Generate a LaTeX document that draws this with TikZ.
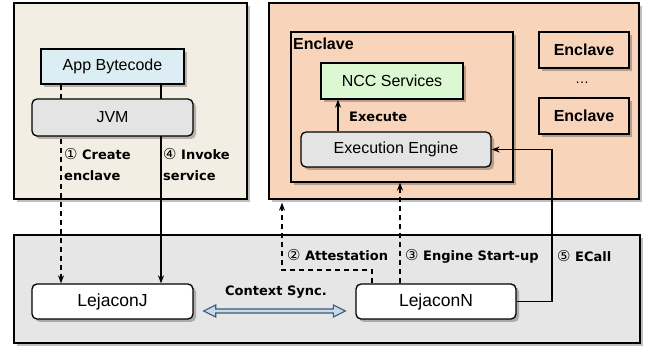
\documentclass[tikz,border=0pt]{standalone}
\usepackage{fontspec}
\setmainfont{Liberation Sans}
\newfontfamily\lblfont{DejaVu Sans}
\usetikzlibrary{shadows,arrows.meta,calc}
\definecolor{leftfill}{HTML}{F3EEE4}
\definecolor{rightfill}{HTML}{F8D4BA}
\definecolor{botfill}{HTML}{E6E6E6}
\definecolor{appfill}{HTML}{DCEEF3}
\definecolor{nccfill}{HTML}{DBF8D3}
\definecolor{greyfill}{HTML}{E4E4E4}
\definecolor{syncfill}{HTML}{C8DAEA}
\definecolor{syncline}{HTML}{3D5B78}
\newcommand{\circnum}[1]{{\mdseries\fontsize{15}{15}\selectfont #1}}
\tikzset{
  shad/.style={drop shadow={shadow xshift=3pt, shadow yshift=-3pt, fill=black, opacity=0.25}},
  box/.style={draw=black, line width=1.3pt, shad, inner sep=0pt, anchor=center},
  panel/.style={box},
  rbox/.style={box, rounded corners=5pt},
  boxtext/.style={font=\fontsize{16}{18}\selectfont},
  enctext/.style={font=\fontsize{16}{18}\selectfont\bfseries},
  lbl/.style={font=\lblfont\bfseries\fontsize{13}{21}\selectfont, inner sep=0pt, align=left},
  conn/.style={line width=1.4pt, -{Stealth[length=8pt,width=6pt]}},
  dconn/.style={conn, dash pattern=on 5pt off 4pt},
}
\begin{document}
\begin{tikzpicture}[x=1pt,y=-1pt]
\useasboundingbox (0,0) rectangle (651,352);
% panels
\node[panel, fill=leftfill, minimum width=233pt, minimum height=196pt] (lp) at (130.5,101) {};
\node[panel, fill=rightfill, minimum width=370pt, minimum height=196pt] (rp) at (454,101) {};
\node[panel, fill=botfill, minimum width=626pt, minimum height=108pt] (bp) at (327,289) {};
% enclave area
\node[box, fill=rightfill, minimum width=222pt, minimum height=150pt] (enc) at (402,107) {};
\node[enctext, anchor=west, inner sep=0pt] (enclbl) at (293,44) {Enclave};
\node[box, fill=nccfill, minimum width=142pt, minimum height=36pt, boxtext] (ncc) at (392,81) {NCC Services};
\node[rbox, fill=greyfill, minimum width=190pt, minimum height=35pt, boxtext] (ee) at (396,149.5) {Execution Engine};
\node[box, fill=rightfill, minimum width=90pt, minimum height=36pt, enctext] (e1) at (584,50) {Enclave};
\node[box, fill=rightfill, minimum width=90pt, minimum height=36pt, enctext] (e2) at (584,116) {Enclave};
\node[font=\fontsize{14}{16}\selectfont, inner sep=0pt] (dots) at (582,83) {\dots};
% left
\coordinate (xa) at (61,0);
\coordinate (xb) at (161,0);
\node[box, fill=appfill, minimum width=143pt, minimum height=35pt, boxtext] (app) at (112.5,66.5) {App Bytecode};
\node[box, fill=white, rounded corners=5pt, minimum width=161pt, minimum height=35pt, font=\fontsize{17.5}{20}\selectfont] (lj) at (112.5,301.5) {LejaconJ};
\node[box, fill=white, rounded corners=5pt, minimum width=160pt, minimum height=35pt, font=\fontsize{17.5}{20}\selectfont] (ln) at (436,301.5) {LejaconN};
\draw[dconn] (app.south -| xa) -- (lj.north -| xa);
\draw[conn] (app.south -| xb) -- (lj.north -| xb);
\node[rbox, fill=greyfill, minimum width=161pt, minimum height=37pt, boxtext] (jvm) at (112.5,117.5) {JVM};
\node[lbl, anchor=west] (l1) at (64,165) {\circnum{①} Create\\enclave};
\node[lbl, anchor=west] (l4) at (163,165) {\circnum{④} Invoke\\service};
% execute
\coordinate (xe) at (338,0);
\draw[conn] (ee.north -| xe) -- (ncc.south -| xe);
\node[lbl, anchor=west] (lex) at (349,117) {Execute};
% ecall
\coordinate (xc) at (552,0);
\draw[conn] (ln.east) -| (xc |- ee.east) -- (ee.east);
\node[lbl, anchor=west] (l5) at (557,256) {\circnum{⑤} ECall};
% engine start-up
\coordinate (xs) at (400,0);
\draw[dconn] (ln.north -| xs) -- (enc.south -| xs);
\node[lbl, anchor=west] (l3) at (405,256) {\circnum{③} Engine Start-up};
% attestation
\coordinate (xt) at (372,0);
\coordinate (xu) at (282,0);
\coordinate (yt) at (0,270);
\draw[dconn] (ln.north -| xt) -- (xt |- yt) -- (xu |- yt) -- ($(rp.south -| xu)+(0,3)$);
\node[lbl, anchor=west] (l2) at (287,255) {\circnum{②} Attestation};
% context sync
\coordinate (sl) at ($(lj.east)+(10,9.5)$);
\coordinate (sr) at ($(ln.west)+(-10,9.5)$);
\draw[syncline, fill=syncfill, line width=1.2pt, line join=miter]
  (sl) -- ++(12,-6) -- ++(0,4) -- ($(sr)+(-12,-2)$) -- ++(0,-4) -- (sr)
  -- ++(-12,6) -- ++(0,-4) -- ($(sl)+(12,2)$) -- ++(0,4) -- cycle;
\node[lbl] (lsync) at (276,292) {Context Sync.};
\end{tikzpicture}
\end{document}
